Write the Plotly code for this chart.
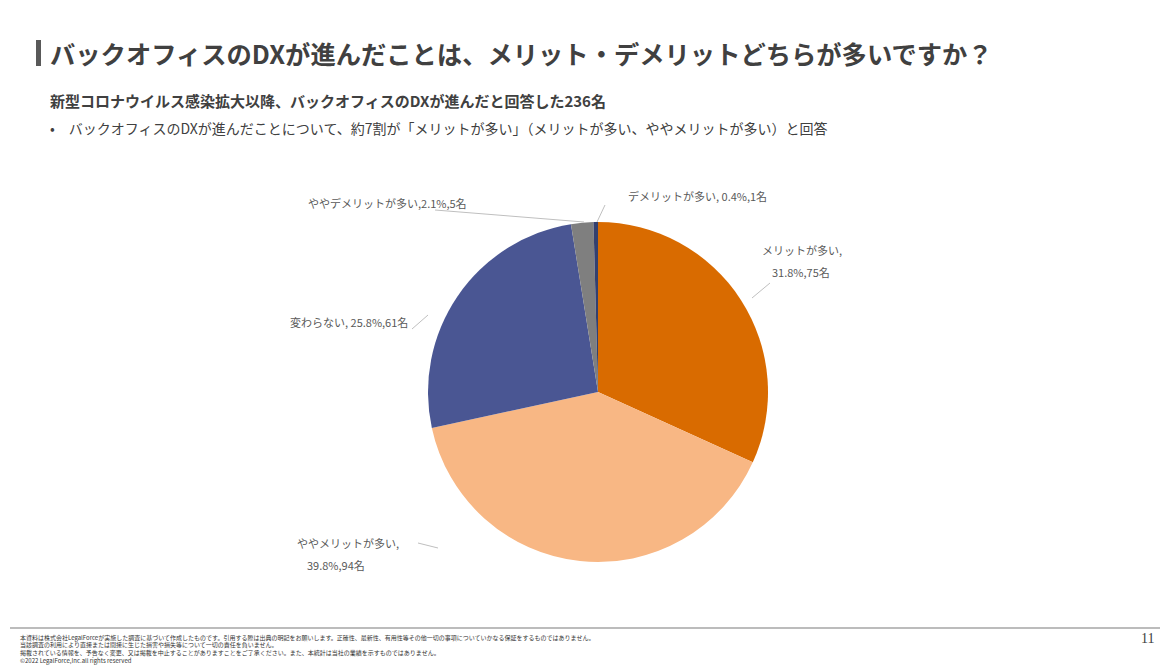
import plotly.graph_objects as go

labels = ["メリットが多い", "ややメリットが多い", "変わらない", "ややデメリットが多い", "デメリットが多い"]
counts = [75, 94, 61, 5, 1]
pcts = ["31.8%", "39.8%", "25.8%", "2.1%", "0.4%"]
colors = ["#D96B00", "#F8B784", "#4A5693", "#7F7F7F", "#34406E"]

W, H = 1174, 671
OFF = 8  # page body margin
def px(x, y):
    return (x - OFF) / W, 1 - (y - OFF) / H

fig = go.Figure(go.Pie(
    labels=labels, values=counts, sort=False, direction="clockwise", rotation=0,
    marker=dict(colors=colors, line=dict(color="white", width=0)),
    textinfo="none", hoverinfo="label+value", showlegend=False,
    domain=dict(x=[(428 - OFF) / W, (768 - OFF) / W], y=[1 - (562 - OFF) / H, 1 - (222 - OFF) / H]),
))

font = "Noto Sans CJK JP"
ann = []
def text(x, y, s, size, color="#595959", anchor="left", bold=False):
    if bold:
        s = "<b>" + s + "</b>"
    X, Y = px(x, y)
    ann.append(dict(x=X, y=Y, xref="paper", yref="paper", text=s, showarrow=False,
                    xanchor=anchor, yanchor="middle", font=dict(family=font, size=size, color=color)))

text(48, 53, "バックオフィスのDXが進んだことは、メリット・デメリットどちらが多いですか？", 25.3, "#404040", bold=True)
text(48, 100, "新型コロナウイルス感染拡大以降、バックオフィスのDXが進んだと回答した236名", 15, "#404040", bold=True)
text(48, 128, "•　バックオフィスのDXが進んだことについて、約7割が「メリットが多い」（メリットが多い、ややメリットが多い）と回答", 14, "#404040")

# slice labels
text(760, 250, f"{labels[0]},", 11)
text(770, 272, f"{pcts[0]},{counts[0]}名", 11)
text(295, 543, f"{labels[1]},", 11)
text(305, 565, f"{pcts[1]},{counts[1]}名", 11)
text(288, 322, f"{labels[2]}, {pcts[2]},{counts[2]}名", 11)
text(306, 203, f"{labels[3]},{pcts[3]},{counts[3]}名", 11)
text(626, 196, f"{labels[4]}, {pcts[4]},{counts[4]}名", 11)

foot = ["本資料は株式会社LegalForceが実施した調査に基づいて作成したものです。引用する際は出典の明記をお願いします。正確性、最新性、有用性等その他一切の事項についていかなる保証をするものではありません。",
        "当該調査の利用により直接または間接に生じた損害や損失等について一切の責任を負いません。",
        "掲載されている情報を、予告なく変更、又は掲載を中止することがありますことをご了承ください。また、本統計は当社の業績を示すものではありません。",
        "©2022 LegalForce,Inc.all rights reserved"]
for i, s in enumerate(foot):
    text(18, 637 + i * 7.7, s, 6, "#333333")
X, Y = px(1156, 648)
ann.append(dict(x=X, y=Y, xref="paper", yref="paper", text="11", showarrow=False, xanchor="right",
                font=dict(family="Liberation Serif", size=14, color="#404040")))

shapes = []
def line(x0, y0, x1, y1, color="#BFBFBF", w=1):
    a, b = px(x0, y0); c, d = px(x1, y1)
    shapes.append(dict(type="line", xref="paper", yref="paper", x0=a, y0=b, x1=c, y1=d,
                       line=dict(color=color, width=w)))

# title bar and footer rule
a, b = px(36, 40); c, d = px(41, 66)
shapes.append(dict(type="rect", xref="paper", yref="paper", x0=a, y0=b, x1=c, y1=d,
                   fillcolor="#595959", line=dict(width=0)))
line(10, 628, 1160, 628, "#A6A6A6", 1.5)
# leader lines
line(770, 283, 752, 298)
line(418, 543, 438, 548)
line(412, 329, 428, 315)
line(435, 210, 584, 222)
line(605, 205, 597, 222)

fig.update_layout(width=W, height=H, margin=dict(l=0, r=0, t=0, b=0),
                  paper_bgcolor="white", plot_bgcolor="white",
                  annotations=ann, shapes=shapes)
fig.write_html("out.html")
